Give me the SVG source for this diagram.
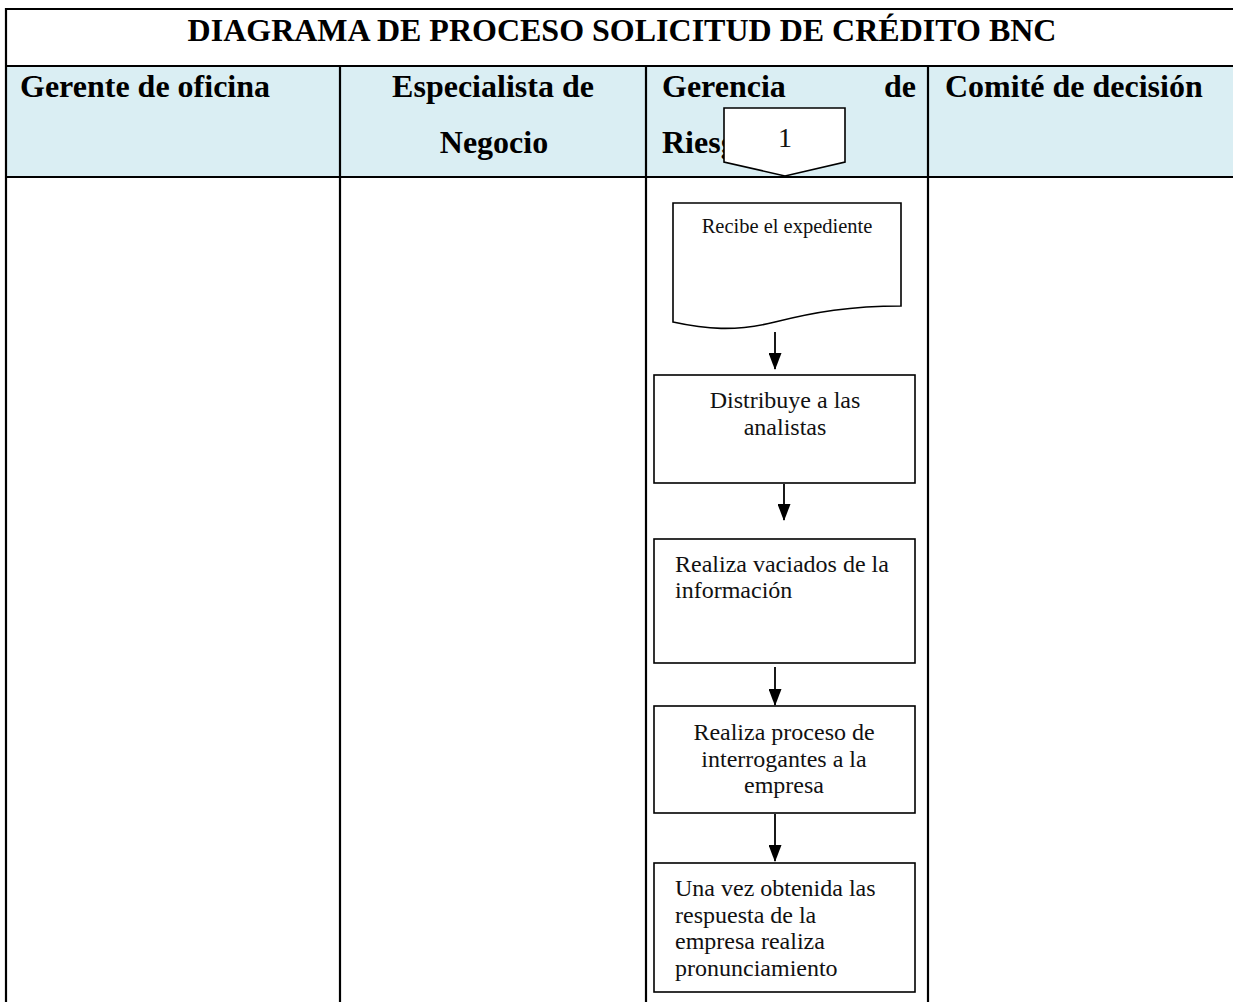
<svg xmlns="http://www.w3.org/2000/svg" width="1233" height="1002" viewBox="0 0 1233 1002">
<defs>
<style>
.grid{stroke:#000;stroke-width:2.2;fill:none}
.hdr{font-family:"Liberation Serif","Times New Roman",serif;font-weight:bold;font-size:32px;fill:#000}
.box{fill:#fff;stroke:#000;stroke-width:1.6}
.t{font-family:"Liberation Serif","Times New Roman",serif;font-size:24px;fill:#111}
.conn{stroke:#000;stroke-width:1.8;fill:none}
</style>
<marker id="ah" markerWidth="17" markerHeight="13" refX="16" refY="6.5" orient="auto" markerUnits="userSpaceOnUse" viewBox="0 0 17 13">
<path d="M0,0 L17,6.5 L0,13 Z" fill="#000"/>
</marker>
</defs>
<rect x="0" y="0" width="1233" height="1002" fill="#fff"/>
<g id="table">
<rect x="6" y="66" width="1227" height="111" fill="#DAEEF3"/>
<line class="grid" x1="6" y1="9" x2="1233" y2="9"/>
<line class="grid" x1="6" y1="66" x2="1233" y2="66"/>
<line class="grid" x1="6" y1="177" x2="1233" y2="177"/>
<line class="grid" x1="6" y1="8" x2="6" y2="1002"/>
<line class="grid" x1="340" y1="66" x2="340" y2="1002"/>
<line class="grid" x1="646" y1="66" x2="646" y2="1002"/>
<line class="grid" x1="928" y1="66" x2="928" y2="1002"/>
<text class="hdr" x="622" y="41" text-anchor="middle">DIAGRAMA DE PROCESO SOLICITUD DE CRÉDITO BNC</text>
<text class="hdr" x="20" y="97">Gerente de oficina</text>
<text class="hdr" x="493" y="97" text-anchor="middle">Especialista de</text>
<text class="hdr" x="494" y="153" text-anchor="middle">Negocio</text>
<text class="hdr" x="662" y="97">Gerencia</text>
<text class="hdr" x="916" y="97" text-anchor="end">de</text>
<text class="hdr" x="662" y="153">Riesgo</text>
<text class="hdr" x="945" y="97">Comité de decisión</text>
</g>
<g id="n0">
<path class="box" d="M724,108 H845 V162 L785,176 L724,162 Z"/>
<text class="t" x="785" y="147" text-anchor="middle" style="font-size:28px">1</text>
</g>
<g id="n1">
<path class="box" d="M673,203 H901 V306 C850,306 815,312 775,322 C735,332 705,329 673,322 Z"/>
<text class="t" x="787" y="233" text-anchor="middle" style="font-size:20.5px">Recibe el expediente</text>
</g>
<g id="n2">
<rect class="box" x="654" y="375" width="261" height="108"/>
<text class="t" x="785" y="408" text-anchor="middle">Distribuye a las</text>
<text class="t" x="785" y="435" text-anchor="middle">analistas</text>
</g>
<g id="n3">
<rect class="box" x="654" y="539" width="261" height="124"/>
<text class="t" x="675" y="572">Realiza vaciados de la</text>
<text class="t" x="675" y="598">información</text>
</g>
<g id="n4">
<rect class="box" x="654" y="706" width="261" height="107"/>
<text class="t" x="784" y="740" text-anchor="middle">Realiza proceso de</text>
<text class="t" x="784" y="767" text-anchor="middle">interrogantes a la</text>
<text class="t" x="784" y="793" text-anchor="middle">empresa</text>
</g>
<g id="n5">
<rect class="box" x="654" y="863" width="261" height="129"/>
<text class="t" x="675" y="896">Una vez obtenida las</text>
<text class="t" x="675" y="922.5">respuesta de la</text>
<text class="t" x="675" y="949">empresa realiza</text>
<text class="t" x="675" y="975.5">pronunciamiento</text>
</g>
<g id="connectors">
<line class="conn" x1="775" y1="332" x2="775" y2="369" marker-end="url(#ah)"/>
<line class="conn" x1="784" y1="484" x2="784" y2="520" marker-end="url(#ah)"/>
<line class="conn" x1="775" y1="667" x2="775" y2="705" marker-end="url(#ah)"/>
<line class="conn" x1="775" y1="814" x2="775" y2="861" marker-end="url(#ah)"/>
</g>
</svg>
